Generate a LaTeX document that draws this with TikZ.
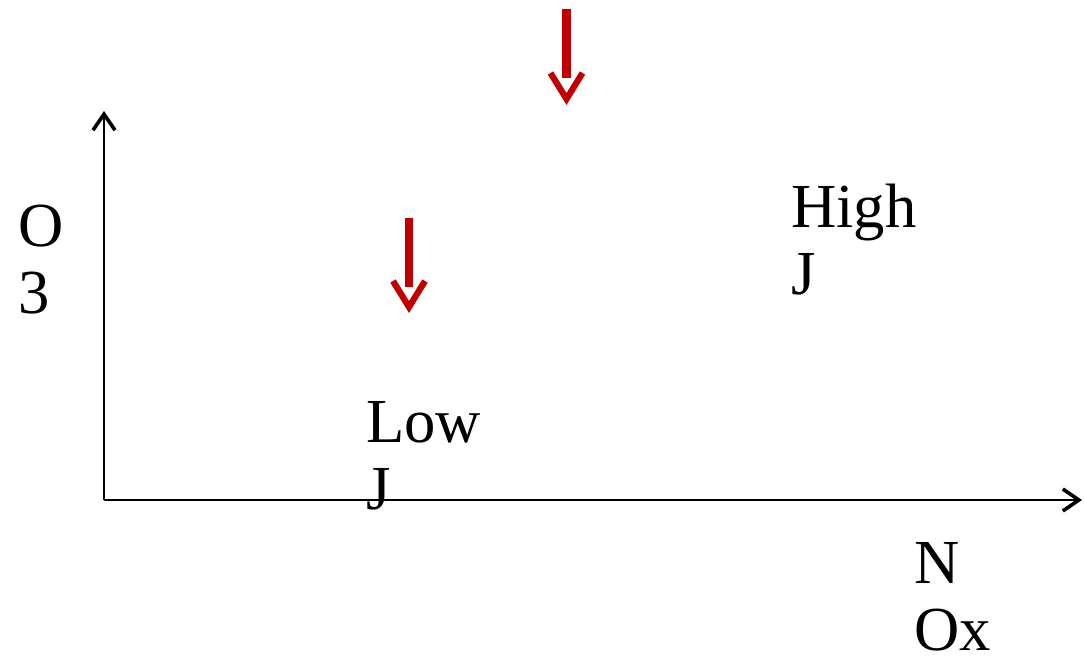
\documentclass[tikz,border=0pt]{standalone}
\usepackage{fontspec}
\setmainfont{Liberation Serif}
\usetikzlibrary{arrows.meta}
\definecolor{arrowred}{HTML}{C00000}
\tikzset{
  axis/.style={line width=1.5pt, -{Straight Barb[length=12pt,width=16.5pt,line width=2.7pt]}},
  lbl/.style={anchor=base west, inner sep=0pt, font=\fontsize{47}{50}\selectfont},
  redshaft/.style={arrowred, line width=6.5pt},
  redhead/.style={arrowred, line width=4.7pt, line join=miter, miter limit=10},
}
\begin{document}
\begin{tikzpicture}[x=0.75pt,y=-0.75pt]
\useasboundingbox (0,0) rectangle (1084,657);
% axes
\coordinate (origin) at (104,500);
\coordinate (ytip) at (104,111);
\coordinate (xtip) at (1082,500);
\draw[axis] (origin) -- (ytip);
\draw[axis] (origin) -- (xtip);
% axis labels
\node[lbl] (yA) at (18,246) {O};
\node[lbl] (yB) at (18,313) {3};
\node[lbl] (xA) at (914,583) {N};
\node[lbl] (xB) at (914,650) {Ox};
% curve labels
\node[lbl] (lowA) at (366,442) {Low};
\node[lbl] (lowB) at (366,509) {J};
\node[lbl] (highA) at (791,227) {High};
\node[lbl] (highB) at (791,294) {J};
% upper red arrow
\coordinate (ra1s) at (566.5,9);
\coordinate (ra1e) at (566.5,78);
\coordinate (ra1l) at (550.5,73);
\coordinate (ra1t) at (566.5,99);
\coordinate (ra1r) at (582.5,73);
\draw[redshaft] (ra1s) -- (ra1e);
\draw[redhead] (ra1l) -- (ra1t) -- (ra1r);
% lower red arrow
\coordinate (ra2s) at (409,218);
\coordinate (ra2e) at (409,287);
\coordinate (ra2l) at (393,281);
\coordinate (ra2t) at (409,307);
\coordinate (ra2r) at (425,281);
\draw[redshaft] (ra2s) -- (ra2e);
\draw[redhead] (ra2l) -- (ra2t) -- (ra2r);
\end{tikzpicture}
\end{document}
